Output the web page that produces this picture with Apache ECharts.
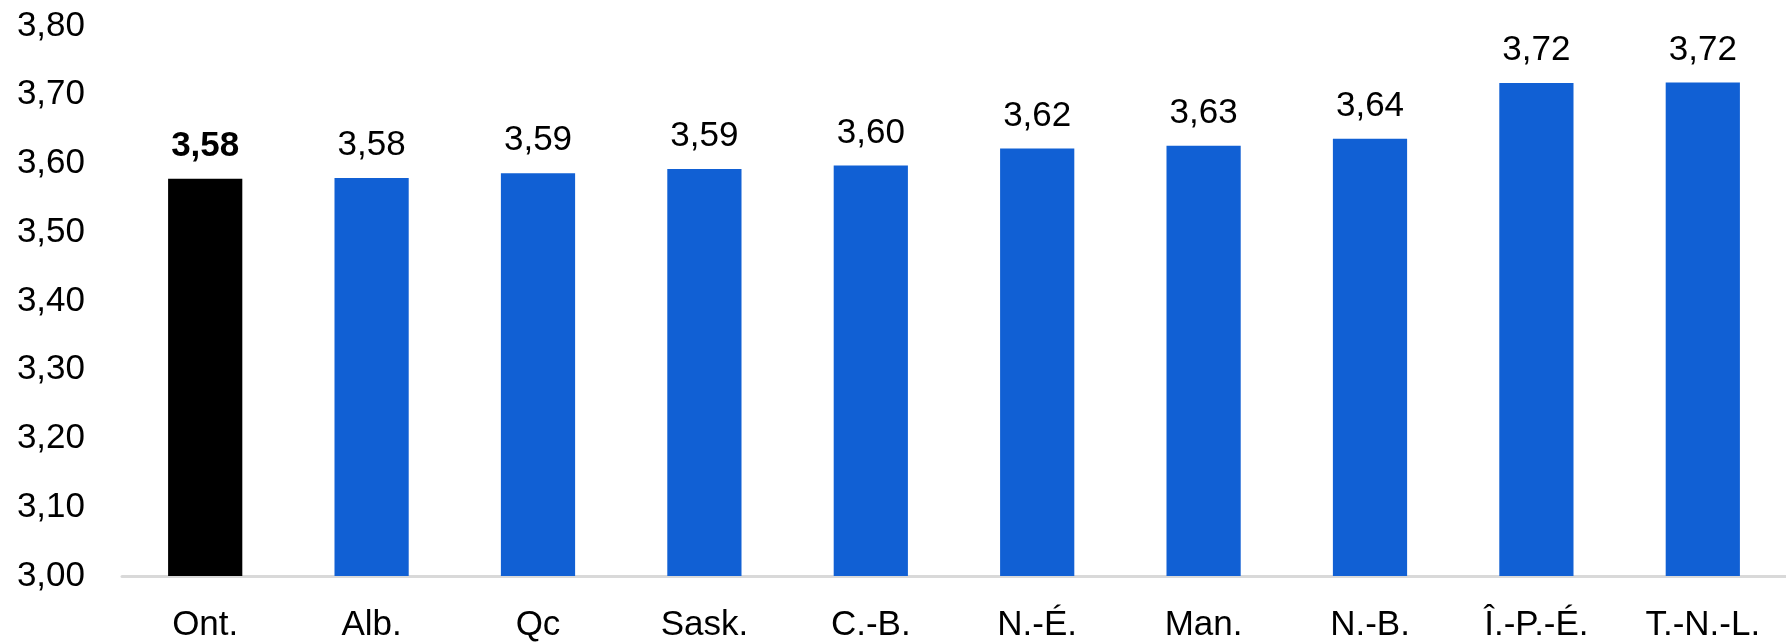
<!DOCTYPE html>
<html>
<head>
<meta charset="utf-8">
<script src="https://cdn.jsdelivr.net/npm/echarts@6/dist/echarts.min.js"></script>
<style>
html,body{margin:0;padding:0;background:#fff;}
#chart{width:1786px;height:643px;}
</style>
</head>
<body>
<div id="chart"></div>
<script>
var categories = ['Ont.', 'Alb.', 'Qc', 'Sask.', 'C.-B.', 'N.-É.', 'Man.', 'N.-B.', 'Î.-P.-É.', 'T.-N.-L.'];
var values = [3.578, 3.579, 3.586, 3.592, 3.597, 3.622, 3.626, 3.636, 3.717, 3.718];
var highlightIndex = 0;
var yTicks = { min: 3.0, max: 3.8, interval: 0.1 };

function fmt(v) { return v.toFixed(2).replace('.', ','); }

var chart = echarts.init(document.getElementById('chart'));
var font = '"Liberation Sans", Arial, sans-serif';
chart.setOption({
  animation: false,
  textStyle: { fontFamily: font },
  grid: { left: 122, right: -20, top: 26, bottom: 64, containLabel: false },
  xAxis: {
    type: 'category',
    data: categories,
    axisLine: { lineStyle: { color: '#d9d9d9', width: 3 } },
    axisTick: { show: false },
    axisLabel: { color: '#000', fontSize: 35, margin: 32, fontFamily: font }
  },
  yAxis: {
    type: 'value',
    min: yTicks.min, max: yTicks.max, interval: yTicks.interval,
    splitLine: { show: false },
    axisLine: { show: false },
    axisTick: { show: false },
    axisLabel: { color: '#000', fontSize: 35, margin: 37, fontFamily: font, formatter: function (v) { return fmt(v); } }
  },
  series: [{
    type: 'bar',
    barWidth: '44.6%',
    data: values.map(function (v, i) {
      return {
        value: v,
        itemStyle: { color: i === highlightIndex ? '#000000' : '#1160d4' },
        label: i === highlightIndex ? { fontWeight: 'bold' } : {}
      };
    }),
    label: {
      show: true, position: 'top', distance: 15,
      color: '#000', fontSize: 35, fontFamily: font,
      formatter: function (p) { return fmt(p.value); }
    }
  }]
});
</script>
</body>
</html>
